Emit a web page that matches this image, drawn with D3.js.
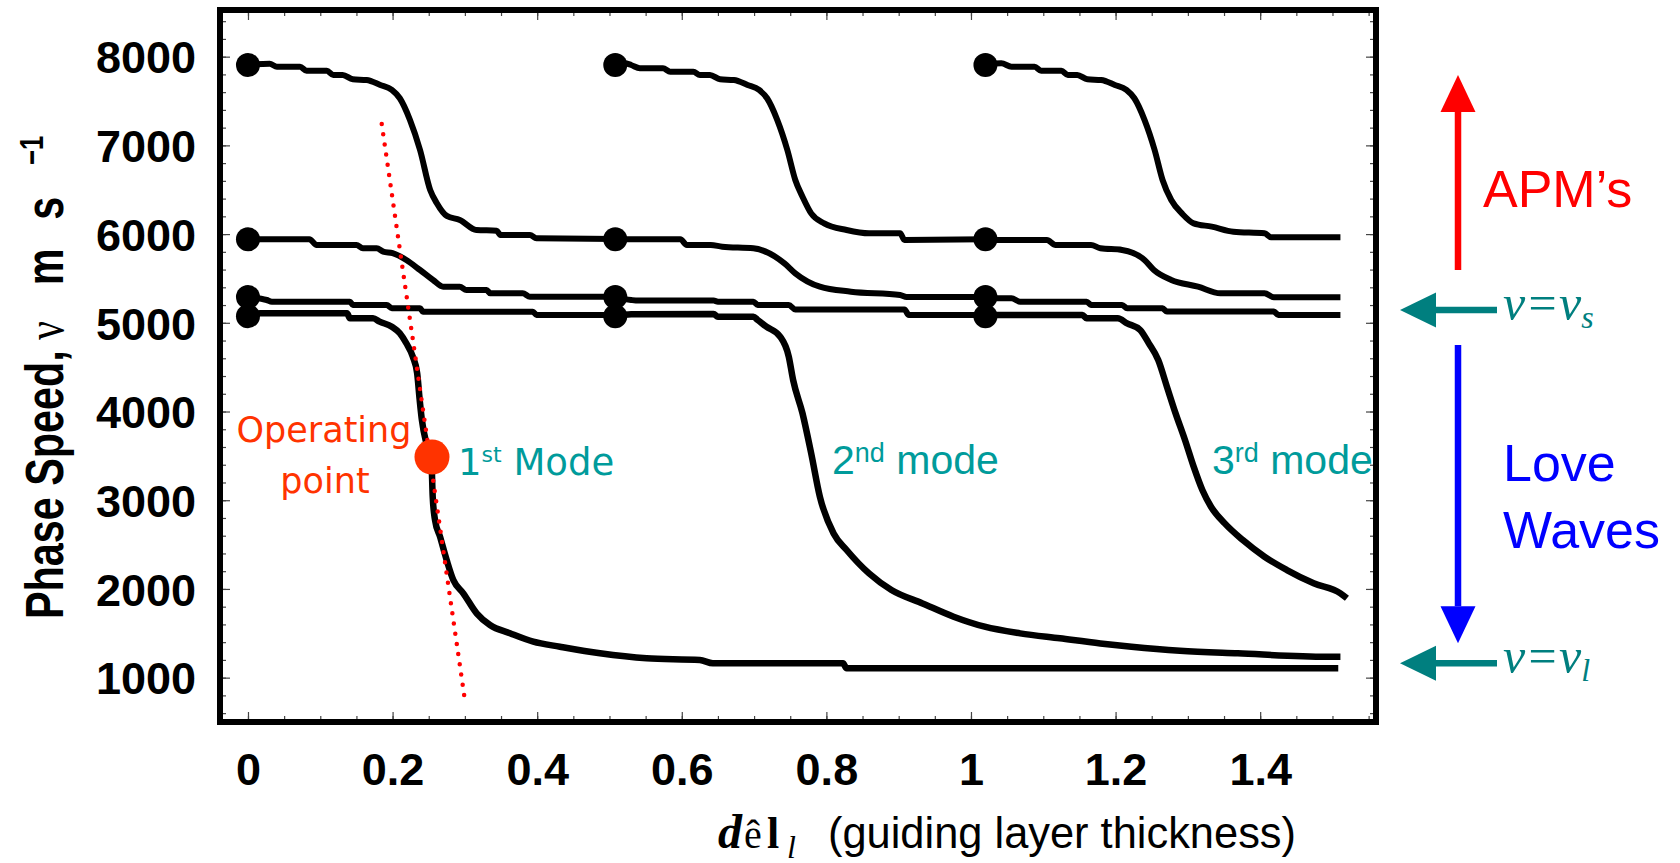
<!DOCTYPE html>
<html><head><meta charset="utf-8">
<script src="https://cdn.jsdelivr.net/npm/d3@7"></script>
<style>body{margin:0;background:#fff}svg{display:block}</style>
</head><body>
<svg id="c" width="1680" height="863"></svg>
<script>
// ---------- data ----------
const xTicks = [0, 0.2, 0.4, 0.6, 0.8, 1, 1.2, 1.4];
const xTickLabels = ["0", "0.2", "0.4", "0.6", "0.8", "1", "1.2", "1.4"];
const yTicks = [1000, 2000, 3000, 4000, 5000, 6000, 7000, 8000];
const yTickLabels = ["1000", "2000", "3000", "4000", "5000", "6000", "7000", "8000"];

// starting points of each mode group (x positions) and starting speeds
const dotX = [0, 0.508, 1.02];
const dotV = [7906, 5941, 5290, 5075];

// APM branches (d/λ, v)
const apm1Top = [[0,7910],[0.030,7920],[0.040,7887],[0.072,7887],[0.081,7842],[0.109,7842],[0.118,7794],[0.131,7794],[0.145,7745],[0.164,7737],[0.183,7681],[0.199,7625],[0.210,7531],[0.224,7288],[0.238,6948],[0.252,6497],[0.261,6351],[0.275,6205],[0.293,6160],[0.316,6046],[0.344,6038],[0.349,5990],[0.390,5990],[0.399,5953],[0.508,5945]];
const apm1Mid = [[0,5941],[0.085,5941],[0.095,5877],[0.150,5877],[0.159,5840],[0.178,5840],[0.187,5802],[0.200,5784],[0.219,5708],[0.238,5595],[0.256,5482],[0.270,5407],[0.293,5407],[0.302,5370],[0.330,5370],[0.335,5333],[0.380,5333],[0.390,5294],[0.508,5294]];
const apm1Low = [[0,5290],[0.026,5257],[0.033,5238],[0.141,5238],[0.145,5201],[0.192,5201],[0.199,5164],[0.238,5164],[0.242,5125],[0.394,5125],[0.399,5088],[0.508,5088]];
const apm2Top = [[0.508,7910],[0.521,7925],[0.530,7906],[0.542,7869],[0.574,7869],[0.584,7831],[0.616,7831],[0.625,7794],[0.639,7794],[0.653,7745],[0.672,7737],[0.691,7681],[0.707,7625],[0.718,7531],[0.732,7288],[0.746,6948],[0.757,6610],[0.767,6422],[0.779,6234],[0.797,6121],[0.828,6046],[0.859,6009],[0.902,6009],[0.908,5933],[1.02,5941]];
const apm2Mid = [[0.508,5941],[0.598,5941],[0.607,5877],[0.640,5877],[0.656,5858],[0.699,5840],[0.742,5670],[0.757,5558],[0.791,5407],[0.834,5351],[0.902,5313],[0.911,5290],[1.02,5290]];
const apm2Low = [[0.508,5290],[0.530,5257],[0.540,5250],[0.644,5250],[0.650,5238],[0.699,5238],[0.705,5201],[0.748,5201],[0.757,5150],[0.908,5150],[0.914,5088],[1.02,5088]];
const apm3Top = [[1.02,7910],[1.042,7925],[1.056,7887],[1.088,7887],[1.097,7842],[1.125,7842],[1.134,7794],[1.147,7794],[1.161,7745],[1.180,7737],[1.199,7681],[1.215,7625],[1.226,7531],[1.240,7288],[1.254,6948],[1.265,6610],[1.277,6384],[1.292,6230],[1.308,6121],[1.333,6084],[1.363,6027],[1.406,6009],[1.415,5964],[1.511,5964]];
const apm3Mid = [[1.02,5941],[1.034,5933],[1.105,5933],[1.117,5877],[1.166,5877],[1.179,5840],[1.209,5821],[1.240,5708],[1.253,5595],[1.277,5483],[1.314,5407],[1.345,5332],[1.406,5332],[1.419,5287],[1.511,5287]];
const apm3Low = [[1.02,5290],[1.034,5276],[1.056,5276],[1.068,5238],[1.160,5238],[1.166,5201],[1.209,5201],[1.216,5163],[1.265,5163],[1.271,5126],[1.419,5126],[1.425,5088],[1.511,5088]];

// Love wave modes
const love1 = [[0,5075],[0.017,5107],[0.137,5107],[0.141,5051],[0.173,5051],[0.182,5013],[0.199,4956],[0.210,4882],[0.219,4769],[0.228,4618],[0.234,4431],[0.2375,4130],[0.2405,3905],[0.2465,3650],[0.2535,3487],[0.2555,3040],[0.2587,2777],[0.2656,2589],[0.2748,2326],[0.284,2100],[0.2978,1951],[0.3163,1725],[0.3347,1593],[0.3624,1500],[0.3946,1405],[0.4315,1349],[0.4869,1274],[0.5514,1218],[0.625,1199],[0.643,1161],[0.823,1161],[0.828,1105],[1.508,1105]];
const love2 = [[0.508,5075],[0.530,5095],[0.644,5100],[0.650,5069],[0.699,5069],[0.705,5032],[0.717,4956],[0.736,4844],[0.748,4618],[0.754,4355],[0.767,3979],[0.779,3528],[0.791,3040],[0.810,2626],[0.828,2439],[0.859,2175],[0.890,1988],[0.933,1837],[0.976,1687],[1.019,1574],[1.068,1499],[1.123,1443],[1.179,1386],[1.222,1349],[1.289,1304],[1.369,1274],[1.492,1236],[1.511,1236]];
const love3 = [[1.02,5075],[1.034,5088],[1.154,5088],[1.160,5050],[1.203,5050],[1.216,4994],[1.234,4919],[1.246,4768],[1.259,4581],[1.271,4280],[1.283,3979],[1.296,3679],[1.308,3378],[1.320,3115],[1.332,2927],[1.351,2739],[1.376,2551],[1.406,2363],[1.437,2213],[1.474,2063],[1.511,1950],[1.520,1894]];

// red dotted tangent line and operating point
const tangentLine = [[0.185, 7241], [0.301, 691]];
const operatingPoint = [0.2545, 3487];

// right-side annotation levels (v)
const vS = 5144, vL = 1161;
const apmArrow = [5595, 7793];   // from, to
const loveArrow = [4749, 1389];  // from, to

// ---------- chart ----------
const svg = d3.select("#c");
const x = d3.scaleLinear().domain([-0.0387, 1.5602]).range([220, 1376]);
const y = d3.scaleLinear().domain([500, 8526]).range([722, 10]);
const SANS = "'Liberation Sans', Arial, sans-serif";
const SERIF = "'Liberation Serif', 'Times New Roman', serif";
const DEJAVU = "'DejaVu Sans', Verdana, sans-serif";

const xMinor = d3.range(0, 1.56, 0.05);
const yMinor = d3.range(600, 8500, 200);

function styleTicks(g){
  g.select(".domain").remove();
  g.selectAll(".tick line").attr("stroke", "#444").attr("stroke-width", 1.2);
}
[[d3.axisBottom(x).tickValues(xMinor), "translate(0,722)"],
 [d3.axisTop(x).tickValues(xMinor), "translate(0,10)"]].forEach(([ax,t])=>{
  svg.append("g").attr("transform", t).call(ax.tickSize(-6).tickFormat("")).call(styleTicks);
});
[[d3.axisLeft(y).tickValues(yMinor), "translate(220,0)"],
 [d3.axisRight(y).tickValues(yMinor), "translate(1376,0)"]].forEach(([ax,t])=>{
  svg.append("g").attr("transform", t).call(ax.tickSize(-6).tickFormat("")).call(styleTicks);
});
svg.append("g").attr("transform","translate(0,10)").call(d3.axisTop(x).tickValues(xTicks).tickSize(-10).tickFormat("")).call(styleTicks);
svg.append("g").attr("transform","translate(1376,0)").call(d3.axisRight(y).tickValues(yTicks).tickSize(-10).tickFormat("")).call(styleTicks);

const gx = svg.append("g").attr("transform","translate(0,722)")
  .call(d3.axisBottom(x).tickValues(xTicks).tickSize(-10).tickFormat((d,i)=>xTickLabels[i]))
  .call(styleTicks);
gx.attr("font-family", SANS).attr("font-size", 45).attr("font-weight", "bold");
gx.selectAll(".tick text").attr("y", 63).attr("dy", null).attr("fill", "#000");

const gy = svg.append("g").attr("transform","translate(220,0)")
  .call(d3.axisLeft(y).tickValues(yTicks).tickSize(-10).tickPadding(24).tickFormat((d,i)=>yTickLabels[i]))
  .call(styleTicks);
gy.attr("font-family", SANS).attr("font-size", 45).attr("font-weight", "bold");
gy.selectAll(".tick text").attr("dy", "0.36em").attr("fill", "#000");

// frame
svg.append("rect").attr("x", 220).attr("y", 10).attr("width", 1156).attr("height", 712)
  .attr("fill", "none").attr("stroke", "#000").attr("stroke-width", 6);

// curves
const line = d3.line().x(d=>x(d[0])).y(d=>y(d[1]));
const smooth = d3.line().x(d=>x(d[0])).y(d=>y(d[1])).curve(d3.curveMonotoneX);
const apmCurves = [apm1Top, apm1Mid, apm1Low, apm2Top, apm2Mid, apm2Low, apm3Top, apm3Mid, apm3Low];
const loveCurves = [love1, love2, love3];
svg.append("g").selectAll("path").data(apmCurves).join("path")
  .attr("d", smooth).attr("fill", "none").attr("stroke", "#000")
  .attr("stroke-width", 6).attr("stroke-linejoin", "round");
svg.append("g").selectAll("path").data(loveCurves).join("path")
  .attr("d", smooth).attr("fill", "none").attr("stroke", "#000")
  .attr("stroke-width", 6.5).attr("stroke-linejoin", "round");

// starting dots
const dots = [];
dotX.forEach(dx => dotV.forEach(dv => dots.push([dx, dv])));
svg.append("g").selectAll("circle").data(dots).join("circle")
  .attr("cx", d=>x(d[0])).attr("cy", d=>y(d[1])).attr("r", 12).attr("fill", "#000");

// tangent (red dotted)
svg.append("path").attr("d", line(tangentLine)).attr("fill", "none")
  .attr("stroke", "#ff0000").attr("stroke-width", 4.5)
  .attr("stroke-dasharray", "0 10.3").attr("stroke-linecap", "round");

// operating point
svg.append("circle").attr("cx", x(operatingPoint[0])).attr("cy", y(operatingPoint[1]))
  .attr("r", 17.5).attr("fill", "#ff3300");

// in-plot labels
svg.append("text").attr("x", 324).attr("y", 442).attr("text-anchor", "middle")
  .attr("font-family", DEJAVU).attr("font-size", 35).attr("fill", "#ff3300").text("Operating");
svg.append("text").attr("x", 325).attr("y", 493).attr("text-anchor", "middle")
  .attr("font-family", DEJAVU).attr("font-size", 35).attr("fill", "#ff3300").text("point");

const TEAL = "#009b9b";
const m1 = svg.append("text").attr("x", 458).attr("y", 475).attr("font-family", DEJAVU)
  .attr("font-size", 37).attr("fill", TEAL);
m1.append("tspan").text("1");
m1.append("tspan").attr("font-size", 22).attr("dy", -13).text("st");
m1.append("tspan").attr("dy", 13).text(" Mode");

function modeLabel(x0, num, sup){
  const t = svg.append("text").attr("x", x0).attr("y", 474).attr("font-family", SANS)
    .attr("font-size", 41).attr("fill", TEAL);
  t.append("tspan").text(num);
  t.append("tspan").attr("font-size", 27).attr("dy", -12).text(sup);
  t.append("tspan").attr("dy", 12).text(" mode");
}
modeLabel(832, "2", "nd");
modeLabel(1212, "3", "rd");

// y axis title
const yl = svg.append("text").attr("transform", "translate(63,619) rotate(-90) scale(0.78,1)")
  .attr("font-family", SANS).attr("font-weight", "bold").attr("font-size", 53).attr("fill", "#000");
yl.append("tspan").attr("x", 0).text("Phase Speed,");
yl.append("tspan").attr("x", 358).attr("font-family", SERIF).attr("font-weight", "normal").text("ν");
yl.append("tspan").attr("x", 428).text("m");
yl.append("tspan").attr("x", 512).text("s");
yl.append("tspan").attr("x", 582).attr("dy", -20).attr("font-size", 33).text("−1");

// x axis title
function xPart(xp, txt, size, weight, style, yp){
  svg.append("text").attr("x", xp).attr("y", yp).attr("font-family", SERIF)
    .attr("font-size", size).attr("font-weight", weight).attr("font-style", style)
    .attr("fill", "#000").text(txt);
}
xPart(718, "d", 48, "bold", "italic", 848);
xPart(744, "ê", 40, "normal", "normal", 848);
xPart(767, "l", 44, "bold", "normal", 848);
xPart(787, "l", 32, "normal", "italic", 858);
svg.append("text").attr("x", 828).attr("y", 848).attr("font-family", SANS).attr("font-size", 44)
  .attr("textLength", 468).attr("lengthAdjust", "spacingAndGlyphs").attr("fill", "#000")
  .text("(guiding layer thickness)");

// ---------- right-side annotations ----------
const AX = 1458;
function vArrow(from, to, color){
  const y0 = y(from), y1 = y(to);
  const dir = Math.sign(y1 - y0);
  const base = y1 - dir * 37;
  svg.append("line").attr("x1", AX).attr("x2", AX).attr("y1", y0).attr("y2", base)
    .attr("stroke", color).attr("stroke-width", 6.5);
  svg.append("path").attr("d", `M${AX},${y1} L${AX-17.5},${base} L${AX+17.5},${base} Z`).attr("fill", color);
}
vArrow(apmArrow[0], apmArrow[1], "#ff0000");
vArrow(loveArrow[0], loveArrow[1], "#0000ff");

const DTEAL = "#007f7f";
function hArrow(v, sub){
  const yy = y(v);
  svg.append("line").attr("x1", 1497).attr("x2", 1432).attr("y1", yy).attr("y2", yy)
    .attr("stroke", DTEAL).attr("stroke-width", 6.5);
  svg.append("path").attr("d", `M1400,${yy} L1436,${yy-17.5} L1436,${yy+17.5} Z`).attr("fill", DTEAL);
  const t = svg.append("text").attr("x", 1503).attr("y", yy + 10).attr("font-family", SERIF)
    .attr("font-style", "italic").attr("font-size", 50).attr("fill", DTEAL);
  t.append("tspan").text("ν=ν");
  t.append("tspan").attr("font-size", 32).attr("dy", 8).text(sub);
}
hArrow(vS, "s");
hArrow(vL, "l");

svg.append("text").attr("x", 1483).attr("y", 207).attr("font-family", SANS).attr("font-size", 52)
  .attr("fill", "#ff0000").text("APM’s");
svg.append("text").attr("x", 1503).attr("y", 481).attr("font-family", SANS).attr("font-size", 52)
  .attr("fill", "#0000ff").text("Love");
svg.append("text").attr("x", 1503).attr("y", 548).attr("font-family", SANS).attr("font-size", 52)
  .attr("fill", "#0000ff").text("Waves");
</script>
</body></html>
